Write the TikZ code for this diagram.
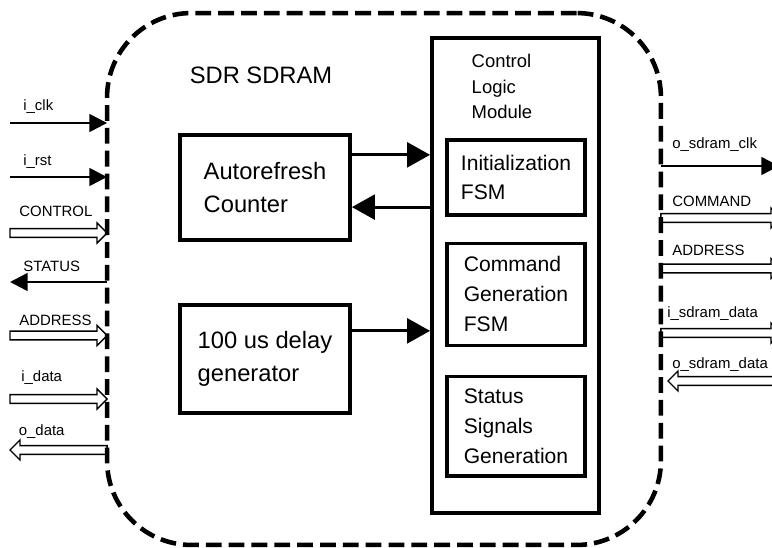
\documentclass[tikz,border=0pt]{standalone}
\usepackage{fontspec}
\setmainfont{Liberation Sans}
\usetikzlibrary{arrows.meta,positioning,calc}

\begin{document}
\begin{tikzpicture}[x=0.02cm, y=-0.02cm,
  blk/.style={draw, line width=2.2pt, align=left, font=\fontsize{13.5}{18.7}\selectfont, minimum width=3.4cm},
  fsm/.style={draw, line width=1.8pt, align=left, font=\fontsize{12}{17}\selectfont, minimum width=2.76cm},
  arr/.style={-{Triangle[length=13pt,width=14pt]}, line width=1.8pt},
  sig/.style={-{Triangle[length=10pt,width=10pt]}, line width=1.4pt},
  bus/.style={line width=0.8pt, to path={let \p1=(\tikztostart), \p2=(\tikztotarget), \p3=($(\tikztotarget)!5.7pt!(\tikztostart)$) in
    (\x1,{\y1+2.5pt}) -- (\x3,{\y1+2.5pt}) -- (\x3,{\y1+5.7pt}) -- (\x2,\y1) -- (\x3,{\y1-5.7pt}) -- (\x3,{\y1-2.5pt}) -- (\x1,{\y1-2.5pt}) -- cycle}},
  lbl/.style={font=\fontsize{8.5}{10}\selectfont, anchor=base west, inner sep=0pt}
]
\path[use as bounding box, clip] (0,0) rectangle (772,548);

% outer dashed block
\node[draw, line width=2.6pt, dash pattern=on 9pt off 4pt, rounded corners=48pt, outer sep=0pt, minimum width=11.08cm, minimum height=10.64cm] (sdram) at (384,279) {};
\node[font=\fontsize{13.5}{16}\selectfont] (sdrtitle) at (261,75) {SDR SDRAM};

% left blocks
\node[blk, minimum height=2.1cm] (arcnt) at (265,187.5) {Autorefresh\\Counter};
\node[blk, minimum height=2.16cm, below=1.22cm of arcnt] (dlygen) {100 us delay\\generator};

% control logic module
\node[draw, line width=2.2pt, minimum width=3.34cm, minimum height=9.5cm] (clm) at (515.5,275.5) {};
\node[align=left, font=\fontsize{10.5}{14.7}\selectfont] (clmtitle) at (502,86.5) {Control\\Logic\\Module};
\node[fsm, minimum height=1.5cm] (initfsm) at (516,177.5) {Initialization\\FSM};
\node[fsm, minimum height=2.04cm, below=0.5cm of initfsm] (cmdfsm) {Command\\Generation\\FSM};
\node[fsm, minimum height=2.0cm, below=0.556cm of cmdfsm] (statfsm) {Status\\Signals\\Generation};

\coordinate (ar1) at ($(arcnt.north east)!0.2!(arcnt.south east)$);
\coordinate (ar2) at ($(arcnt.north east)!0.68!(arcnt.south east)$);
\coordinate (dl1) at ($(dlygen.north east)!0.25!(dlygen.south east)$);
\draw[arr] (ar1) -- (ar1 -| clm.west);
\draw[arr] (ar2 -| clm.west) -- (ar2);
\draw[arr] (dl1) -- (dl1 -| clm.west);

% left side signals
\coordinate (iclk) at (10,123);
\coordinate (irst) at (10,177);
\coordinate (ictl) at (10,233);
\coordinate (ostat) at (10,282);
\coordinate (iaddr) at (10,335.5);
\coordinate (idat) at (10,399);
\coordinate (odat) at (10,450);
\draw[sig] (iclk) -- (iclk -| sdram.west);
\draw[sig] (irst) -- (irst -| sdram.west);
\draw[bus] (ictl) to (ictl -| sdram.west);
\draw[sig] (ostat -| sdram.west) -- (ostat);
\draw[bus] (iaddr) to (iaddr -| sdram.west);
\draw[bus] (idat) to (idat -| sdram.west);
\draw[bus] (odat -| sdram.west) to (odat);
\node[lbl] (iclklbl) at (23,110) {i\_clk};
\node[lbl] (irstlbl) at (23,165) {i\_rst};
\node[lbl] (ictllbl) at (19,216.5) {CONTROL};
\node[lbl] (ostatlbl) at (23,271.5) {STATUS};
\node[lbl] (iaddrlbl) at (19,325) {ADDRESS};
\node[lbl] (idatlbl) at (21,381.5) {i\_data};
\node[lbl] (odatlbl) at (18.5,435) {o\_data};

% right side signals
\coordinate (sclk) at (779,166);
\coordinate (cmd) at (781,218);
\coordinate (oaddr) at (781,268.5);
\coordinate (isd) at (781,333);
\coordinate (osd) at (795,381);
\coordinate (osdtip) at (668,381);
\draw[sig] (sclk -| sdram.east) -- (sclk);
\draw[bus] (cmd -| sdram.east) to (cmd);
\draw[bus] (oaddr -| sdram.east) to (oaddr);
\draw[bus] (isd -| sdram.east) to (isd);
\draw[bus] (osd) to (osdtip);
\node[lbl] (sclklbl) at (672,148) {o\_sdram\_clk};
\node[lbl] (cmdlbl) at (672,206) {COMMAND};
\node[lbl] (oaddrlbl) at (672,255) {ADDRESS};
\node[lbl] (isdlbl) at (667,317) {i\_sdram\_data};
\node[lbl] (osdlbl) at (672,368) {o\_sdram\_data};

\end{tikzpicture}
\end{document}
